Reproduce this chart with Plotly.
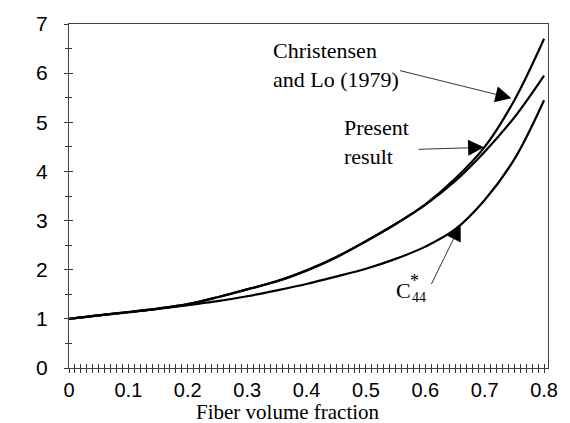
import plotly.graph_objects as go

# Fiber volume fraction (x) and normalized transverse shear modulus GT/mu0 (y)
fiber_fraction = [0.0, 0.05, 0.1, 0.15, 0.2, 0.25, 0.3, 0.35, 0.4,
                  0.45, 0.5, 0.55, 0.6, 0.65, 0.7, 0.75, 0.8]
christensen_lo = [1.00, 1.07, 1.14, 1.21, 1.30, 1.44, 1.60, 1.76, 1.98,
                  2.25, 2.58, 2.93, 3.33, 3.85, 4.50, 5.45, 6.70]
present_result = [1.00, 1.07, 1.14, 1.21, 1.30, 1.44, 1.60, 1.77, 1.99,
                  2.26, 2.58, 2.93, 3.32, 3.80, 4.40, 5.10, 5.95]
c44_star = [1.00, 1.07, 1.13, 1.20, 1.28, 1.36, 1.46, 1.58, 1.71,
            1.86, 2.02, 2.22, 2.47, 2.82, 3.42, 4.25, 5.45]

x_ticks = [0, 0.1, 0.2, 0.3, 0.4, 0.5, 0.6, 0.7, 0.8]
x_tick_labels = ["0", "0.1", "0.2", "0.3", "0.4", "0.5", "0.6", "0.7", "0.8"]
y_ticks = [0, 1, 2, 3, 4, 5, 6, 7]

SERIF = "Liberation Serif, Times New Roman, serif"
SANS = "Liberation Sans, Arial, sans-serif"

fig = go.Figure()
for ys in (christensen_lo, present_result, c44_star):
    fig.add_trace(go.Scatter(x=fiber_fraction, y=ys, mode="lines",
                             line=dict(color="black", width=2.2, shape="spline"),
                             showlegend=False, hoverinfo="skip"))

X_RANGE = [0, 0.8066]
Y_RANGE = [0, 7]

tick_style = dict(showgrid=False, zeroline=False, tickcolor="#333", tickwidth=1, ticklen=4)

fig.update_layout(
    width=570, height=423,
    margin=dict(l=69, r=13, t=20, b=55),
    plot_bgcolor="white", paper_bgcolor="white",
    xaxis=dict(range=X_RANGE, tickvals=x_ticks, ticktext=x_tick_labels,
               ticks="outside", mirror=True, linecolor="#444", linewidth=1,
               minor=dict(dtick=0.01, ticks="outside", ticklen=4, tickcolor="#333"),
               tickfont=dict(family=SANS, size=20, color="black"),
               **tick_style),
    yaxis=dict(range=Y_RANGE, tickvals=y_ticks, ticks="outside", mirror=True,
               linecolor="#444", linewidth=1,
               minor=dict(dtick=0.5, ticks="outside", ticklen=3, tickcolor="#333"),
               tickfont=dict(family=SANS, size=21, color="black"),
               ticklabelstandoff=12,
               **tick_style),
    # overlay axes give the crossing (+) tick marks
    xaxis2=dict(range=X_RANGE, overlaying="x", anchor="y", side="bottom",
                tickvals=x_ticks, showticklabels=False, ticks="inside", showline=False,
                minor=dict(dtick=0.01, ticks="inside", ticklen=4, tickcolor="#333"),
                **tick_style),
    yaxis2=dict(range=Y_RANGE, overlaying="y", anchor="x", side="left",
                tickvals=y_ticks, showticklabels=False, ticks="inside", showline=False,
                minor=dict(dtick=0.5, ticks="inside", ticklen=3, tickcolor="#333"),
                **tick_style),
)

# empty trace so the overlay axes get drawn
fig.add_trace(go.Scatter(x=[], y=[], xaxis="x2", yaxis="y2", showlegend=False))

txt = dict(showarrow=False, font=dict(family=SERIF, size=22, color="black"))

# axis titles
fig.add_annotation(x=-0.011, y=5.55, xanchor="right", yanchor="middle",
                   text="GT/\u03bc<sub>0</sub>", **txt)
fig.add_annotation(x=0.369, y=-0.128, yref="paper", xanchor="center", yanchor="middle",
                   text="Fiber volume fraction", showarrow=False, borderpad=0,
                   font=dict(family=SERIF, size=21, color="black"))

# curve labels
fig.add_annotation(x=0.340, y=6.16, xanchor="left", yanchor="middle", align="left",
                   text="Christensen<br>and Lo (1979)", **txt)
fig.add_annotation(x=0.4595, y=4.59, xanchor="left", yanchor="middle", align="left",
                   text="Present<br>result", **txt)
fig.add_annotation(x=0.547, y=1.58, xanchor="left", yanchor="middle", text="C", **txt)
fig.add_annotation(x=0.582, y=1.78, xanchor="center", yanchor="middle", text="*",
                   showarrow=False, font=dict(family=SERIF, size=18, color="black"))
fig.add_annotation(x=0.590, y=1.44, xanchor="center", yanchor="middle", text="44",
                   showarrow=False, font=dict(family=SERIF, size=14, color="black"))

# arrows
arrow = dict(text="", showarrow=True, arrowhead=2, arrowsize=4, arrowwidth=0.8,
             arrowcolor="black")
fig.add_annotation(x=0.745, y=5.49, ax=-113, ay=-28, **arrow)
fig.add_annotation(x=0.699, y=4.49, ax=-67, ay=2, **arrow)
fig.add_annotation(x=0.6595, y=2.92, ax=-30, ay=61, **arrow)

fig.write_html("out.html", config={"displayModeBar": False})

# drop the default page margin so the figure sits at the window origin
with open("out.html", encoding="utf-8") as f:
    page = f.read()
page = page.replace("<body>", '<body style="margin:0">', 1)
with open("out.html", "w", encoding="utf-8") as f:
    f.write(page)
